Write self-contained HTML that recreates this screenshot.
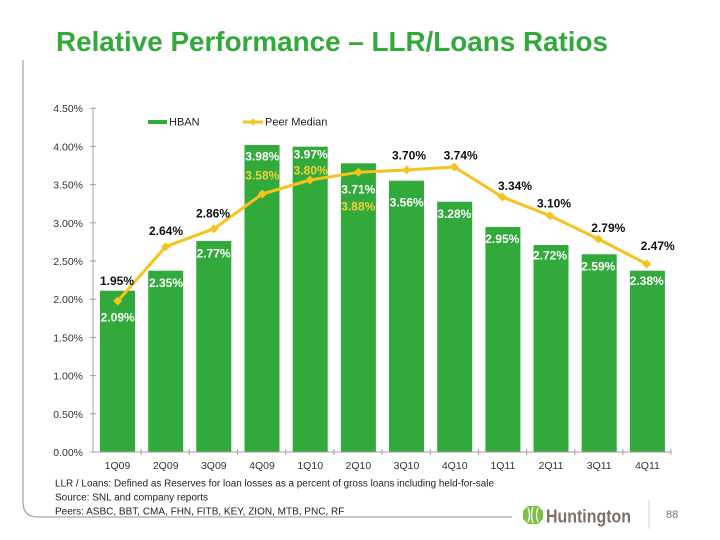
<!DOCTYPE html>
<html>
<head>
<meta charset="utf-8">
<style>
html,body{margin:0;padding:0;background:#fff;}
svg{display:block;}
text{font-family:"Liberation Sans",Arial,sans-serif;}
</style>
</head>
<body>
<svg width="720" height="540" viewBox="0 0 720 540" xmlns="http://www.w3.org/2000/svg">
  <!-- frame -->
  <path d="M23,60 V502 Q23,517 38,517 H512" fill="none" stroke="#a8a8a8" stroke-width="1.3"/>
  <!-- title -->
  <text x="56" y="51" font-size="28" font-weight="bold" fill="#31a93b" textLength="552" lengthAdjust="spacingAndGlyphs">Relative Performance – LLR/Loans Ratios</text>

  <!-- y axis -->
  <line x1="93" y1="108" x2="93" y2="452" stroke="#a0a0a0" stroke-width="1"/>
  <g stroke="#a0a0a0" stroke-width="1">
    <line x1="90" y1="108.2" x2="96" y2="108.2"/>
    <line x1="90" y1="146.4" x2="96" y2="146.4"/>
    <line x1="90" y1="184.6" x2="96" y2="184.6"/>
    <line x1="90" y1="222.8" x2="96" y2="222.8"/>
    <line x1="90" y1="261" x2="96" y2="261"/>
    <line x1="90" y1="299.2" x2="96" y2="299.2"/>
    <line x1="90" y1="337.4" x2="96" y2="337.4"/>
    <line x1="90" y1="375.6" x2="96" y2="375.6"/>
    <line x1="90" y1="413.8" x2="96" y2="413.8"/>
    <line x1="90" y1="452" x2="96" y2="452"/>
  </g>
  <g font-size="10.5" fill="#333" text-anchor="end">
    <text x="83" y="112.2">4.50%</text>
    <text x="83" y="150.4">4.00%</text>
    <text x="83" y="188.6">3.50%</text>
    <text x="83" y="226.8">3.00%</text>
    <text x="83" y="265">2.50%</text>
    <text x="83" y="303.2">2.00%</text>
    <text x="83" y="341.4">1.50%</text>
    <text x="83" y="379.6">1.00%</text>
    <text x="83" y="417.8">0.50%</text>
    <text x="83" y="456">0.00%</text>
  </g>

  <!-- bars -->
  <g fill="#31a93b">
    <rect x="100" y="290.7" width="35" height="161.3"/>
    <rect x="148.2" y="270.7" width="35" height="181.3"/>
    <rect x="196.3" y="241" width="35" height="211"/>
    <rect x="244.5" y="145" width="35" height="307"/>
    <rect x="292.7" y="146.7" width="35" height="305.3"/>
    <rect x="340.9" y="163.3" width="35" height="288.7"/>
    <rect x="389" y="180.7" width="35" height="271.3"/>
    <rect x="437.2" y="201.7" width="35" height="250.3"/>
    <rect x="485.4" y="227" width="35" height="225"/>
    <rect x="533.5" y="245" width="35" height="207"/>
    <rect x="581.7" y="254.3" width="35" height="197.7"/>
    <rect x="629.9" y="270.7" width="35" height="181.3"/>
  </g>

  <!-- x axis -->
  <line x1="93" y1="452" x2="671" y2="452" stroke="#a0a0a0" stroke-width="1"/>
  <g stroke="#a0a0a0" stroke-width="1">
    <line x1="141.2" y1="449" x2="141.2" y2="455"/>
    <line x1="189.3" y1="449" x2="189.3" y2="455"/>
    <line x1="237.5" y1="449" x2="237.5" y2="455"/>
    <line x1="285.7" y1="449" x2="285.7" y2="455"/>
    <line x1="333.9" y1="449" x2="333.9" y2="455"/>
    <line x1="382" y1="449" x2="382" y2="455"/>
    <line x1="430.2" y1="449" x2="430.2" y2="455"/>
    <line x1="478.4" y1="449" x2="478.4" y2="455"/>
    <line x1="526.5" y1="449" x2="526.5" y2="455"/>
    <line x1="574.7" y1="449" x2="574.7" y2="455"/>
    <line x1="622.9" y1="449" x2="622.9" y2="455"/>
    <line x1="671" y1="449" x2="671" y2="455"/>
  </g>
  <g font-size="10.5" fill="#333" text-anchor="middle">
    <text x="117.5" y="469">1Q09</text>
    <text x="165.7" y="469">2Q09</text>
    <text x="213.8" y="469">3Q09</text>
    <text x="262" y="469">4Q09</text>
    <text x="310.2" y="469">1Q10</text>
    <text x="358.4" y="469">2Q10</text>
    <text x="406.5" y="469">3Q10</text>
    <text x="454.7" y="469">4Q10</text>
    <text x="502.9" y="469">1Q11</text>
    <text x="551" y="469">2Q11</text>
    <text x="599.2" y="469">3Q11</text>
    <text x="647.4" y="469">4Q11</text>
  </g>

  <!-- peer median line -->
  <polyline fill="none" stroke="#f5c31c" stroke-width="3" stroke-linejoin="round"
    points="117.7,301 165.7,246.7 214,228.7 262.3,194 310,180 358.3,172.3 406.7,170 454.3,167 502.3,197 550,215.7 598.3,239 646.7,264"/>
  <g fill="#f5c31c">
    <path d="M117.7,296.5 l4.5,4.5 l-4.5,4.5 l-4.5,-4.5z"/>
    <path d="M165.7,242.2 l4.5,4.5 l-4.5,4.5 l-4.5,-4.5z"/>
    <path d="M214,224.2 l4.5,4.5 l-4.5,4.5 l-4.5,-4.5z"/>
    <path d="M262.3,189.5 l4.5,4.5 l-4.5,4.5 l-4.5,-4.5z"/>
    <path d="M310,175.5 l4.5,4.5 l-4.5,4.5 l-4.5,-4.5z"/>
    <path d="M358.3,167.8 l4.5,4.5 l-4.5,4.5 l-4.5,-4.5z"/>
    <path d="M406.7,165.5 l4.5,4.5 l-4.5,4.5 l-4.5,-4.5z"/>
    <path d="M454.3,162.5 l4.5,4.5 l-4.5,4.5 l-4.5,-4.5z"/>
    <path d="M502.3,192.5 l4.5,4.5 l-4.5,4.5 l-4.5,-4.5z"/>
    <path d="M550,211.2 l4.5,4.5 l-4.5,4.5 l-4.5,-4.5z"/>
    <path d="M598.3,234.5 l4.5,4.5 l-4.5,4.5 l-4.5,-4.5z"/>
    <path d="M646.7,259.5 l4.5,4.5 l-4.5,4.5 l-4.5,-4.5z"/>
  </g>

  <!-- black peer labels -->
  <g font-size="12" font-weight="bold" fill="#111" text-anchor="middle">
    <text x="117" y="285">1.95%</text>
    <text x="166" y="235">2.64%</text>
    <text x="213" y="217.6">2.86%</text>
    <text x="409" y="159.3">3.70%</text>
    <text x="460.7" y="159.3">3.74%</text>
    <text x="515" y="190">3.34%</text>
    <text x="554" y="207.6">3.10%</text>
    <text x="608.3" y="232">2.79%</text>
    <text x="657.7" y="250">2.47%</text>
  </g>
  <!-- white bar labels -->
  <g font-size="12" font-weight="bold" fill="#fff" text-anchor="middle">
    <text x="117.7" y="321.6">2.09%</text>
    <text x="166" y="287">2.35%</text>
    <text x="213.7" y="257.6">2.77%</text>
    <text x="262.3" y="160.3">3.98%</text>
    <text x="310.7" y="158.3">3.97%</text>
    <text x="358.3" y="193.3">3.71%</text>
    <text x="406.7" y="206.3">3.56%</text>
    <text x="454.3" y="218">3.28%</text>
    <text x="502.3" y="243">2.95%</text>
    <text x="550" y="259.6">2.72%</text>
    <text x="598.3" y="270.3">2.59%</text>
    <text x="646.7" y="285">2.38%</text>
  </g>
  <!-- yellow labels -->
  <g font-size="12" font-weight="bold" fill="#f2d03a" text-anchor="middle">
    <text x="262.3" y="179.3">3.58%</text>
    <text x="310.7" y="174.3">3.80%</text>
    <text x="358.3" y="210.6">3.88%</text>
  </g>

  <!-- legend -->
  <rect x="148" y="120" width="19" height="4" fill="#31a93b"/>
  <text x="169" y="125.7" font-size="11" fill="#222">HBAN</text>
  <line x1="243" y1="122" x2="263" y2="122" stroke="#f5c31c" stroke-width="3"/>
  <path d="M253,118.5 l3.5,3.5 l-3.5,3.5 l-3.5,-3.5z" fill="#f5c31c"/>
  <text x="265" y="125.7" font-size="11" fill="#222">Peer Median</text>

  <!-- footnotes -->
  <g font-size="10" fill="#222">
    <text x="55" y="486.3" textLength="439" lengthAdjust="spacingAndGlyphs">LLR / Loans: Defined as Reserves for loan losses as a percent of gross loans including held-for-sale</text>
    <text x="55" y="500.3">Source: SNL and company reports</text>
    <text x="55" y="514.3">Peers: ASBC, BBT, CMA, FHN, FITB, KEY, ZION, MTB, PNC, RF</text>
  </g>

  <!-- logo -->
  <g>
    <path d="M528,506 H538 L543,511 V519 L538,524 H528 L523,519 V511 Z" fill="#7cc142"/>
    <path d="M528,508 Q531,515 528,522 M533,507 Q530,515 533,523 M538,508 Q535,515 538,522" fill="none" stroke="#fff" stroke-width="1.3"/>
    <text x="546" y="522.5" font-size="18" font-weight="bold" fill="#7b7166" textLength="85" lengthAdjust="spacingAndGlyphs">Huntington</text>
  </g>
  <line x1="649" y1="500" x2="649" y2="529" stroke="#d6d6cc" stroke-width="1"/>
  <text x="666" y="518" font-size="11" fill="#777">88</text>
</svg>
</body>
</html>
